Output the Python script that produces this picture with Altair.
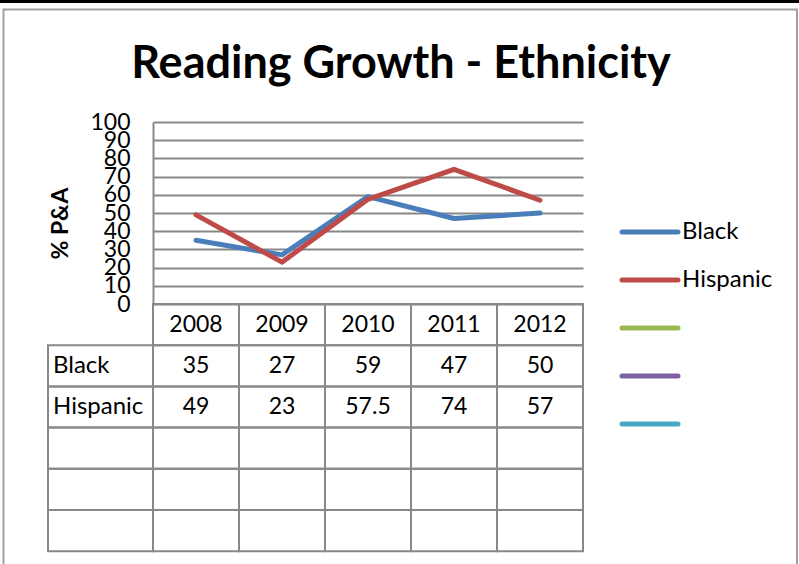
import altair as alt
import pandas as pd

# ---------------- data ----------------
years = ["2008", "2009", "2010", "2011", "2012"]
series_names = ["Black", "Hispanic"]
black = [35, 27, 59, 47, 50]
hispanic = [49, 23, 57.5, 74, 57]
legend_ids = ["Black", "Hispanic", "s3", "s4", "s5"]
legend_labels = ["Black", "Hispanic", "", "", ""]
colors = ["#4A7EBB", "#BE4B48", "#98B954", "#7D60A0", "#46AAC5"]
row_ids = ["hdr", "Black", "Hispanic", "e1", "e2", "e3"]
row_labels = ["", "Black", "Hispanic", "", "", ""]
y_ticks = list(range(0, 101, 10))
title_text = "Reading Growth - Ethnicity"
y_title = "% P&A"

# ---------------- styles ----------------
FONT = "Lato"
GRID = "#888888"
W, H = 430, 182          # plot area
ROW_H = 41.2

def fmt(v):
    return f"{v:g}"

line_df = pd.DataFrame({
    "year": years * 2,
    "value": black + hispanic,
    "series": ["Black"] * len(years) + ["Hispanic"] * len(years),
})

cells = [{"row": "hdr", "year": y, "text": y} for y in years]
for name, vals in zip(series_names, [black, hispanic]):
    for y, v in zip(years, vals):
        cells.append({"row": name, "year": y, "text": fmt(v)})
for r in row_ids[3:]:
    for y in years:
        cells.append({"row": r, "year": y, "text": ""})
cell_df = pd.DataFrame(cells)
label_df = pd.DataFrame({"row": row_ids[1:], "label": row_labels[1:]})
legend_df = pd.DataFrame({"id": legend_ids, "label": legend_labels})
title_df = pd.DataFrame({"t": [title_text]})
deco_df = pd.DataFrame({"k": [0]})

x_scale = alt.Scale(type="band", domain=years, paddingInner=0, paddingOuter=0)
row_scale = alt.Scale(type="band", domain=row_ids, range=[H, H + ROW_H * 6],
                      paddingInner=0, paddingOuter=0)
leg_scale = alt.Scale(type="point", domain=legend_ids, range=[110, 302], padding=0)
color_scale = alt.Scale(domain=legend_ids, range=colors)

lines = alt.Chart(line_df).mark_line(strokeWidth=5, strokeCap="round", strokeJoin="round").encode(
    x=alt.X("year:N", scale=x_scale, axis=None, bandPosition=0.5),
    y=alt.Y("value:Q", scale=alt.Scale(domain=[0, 100], nice=False),
            axis=alt.Axis(values=y_ticks, grid=True, gridColor=GRID, gridWidth=2,
                          domainColor=GRID, domainWidth=2, ticks=False, tickSize=0,
                          labelPadding=23, labelFont=FONT, labelFontSize=23,
                          labelColor="black", labelOverlap=False, labelFlush=False,
                          title=y_title, titleFont=FONT, titleFontSize=23,
                          titleFontWeight="bold", titleColor="black",
                          titleAngle=270, titleX=-93, titleY=101,
                          titleAlign="center", titleBaseline="middle")),
    color=alt.Color("series:N", scale=color_scale, legend=None),
)

cell_rects = alt.Chart(cell_df).mark_rect(fillOpacity=0, stroke=GRID, strokeWidth=2).encode(
    x=alt.X("year:N", scale=x_scale, axis=None),
    y=alt.Y("row:N", scale=row_scale, axis=None),
)
label_rects = alt.Chart(label_df).mark_rect(fillOpacity=0, stroke=GRID, strokeWidth=2).encode(
    x=alt.value(-105), x2=alt.value(0),
    y=alt.Y("row:N", scale=row_scale, axis=None),
)
cell_text = alt.Chart(cell_df).mark_text(font=FONT, fontSize=23, color="black",
                                         baseline="middle", align="center").encode(
    x=alt.X("year:N", scale=x_scale, axis=None, bandPosition=0.5),
    y=alt.Y("row:N", scale=row_scale, axis=None, bandPosition=0.5),
    text="text:N",
)
label_text = alt.Chart(label_df).mark_text(font=FONT, fontSize=24, color="black",
                                           baseline="middle", align="left").encode(
    x=alt.value(-100),
    y=alt.Y("row:N", scale=row_scale, axis=None, bandPosition=0.5),
    text="label:N",
)
legend_rules = alt.Chart(legend_df).mark_rule(strokeWidth=5, strokeCap="round").encode(
    y=alt.Y("id:N", scale=leg_scale, axis=None),
    x=alt.value(469), x2=alt.value(525),
    color=alt.Color("id:N", scale=color_scale, legend=None),
)
legend_text = alt.Chart(legend_df).mark_text(font=FONT, fontSize=24, color="black",
                                             baseline="middle", align="left").encode(
    y=alt.Y("id:N", scale=leg_scale, axis=None),
    x=alt.value(529),
    text="label:N",
)
title = alt.Chart(title_df).mark_text(font=FONT, fontSize=45, fontWeight="bold", color="black",
                                      baseline="alphabetic", align="center").encode(
    x=alt.value(248), y=alt.value(-44), text="t:N",
)
frame = alt.Chart(deco_df).mark_rect(fillOpacity=0, stroke="#A0A0A0", strokeWidth=2).encode(
    x=alt.value(-149.5), x2=alt.value(644), y=alt.value(-112.5), y2=alt.value(480),
)
topbar = alt.Chart(deco_df).mark_rect(color="black").encode(
    x=alt.value(-153), x2=alt.value(646), y=alt.value(-122), y2=alt.value(-119),
)

chart = alt.layer(
    lines, cell_rects, label_rects, cell_text, label_text,
    legend_rules, legend_text, title, frame, topbar,
).resolve_scale(y="independent").properties(
    width=W, height=H,
    autosize=alt.AutoSizeParams(type="none"),
    padding={"left": 153, "top": 122, "right": 216, "bottom": 260},
    background="white",
).configure_view(stroke=None)

chart.save("out.html", embed_options={"renderer": "svg", "actions": False})
